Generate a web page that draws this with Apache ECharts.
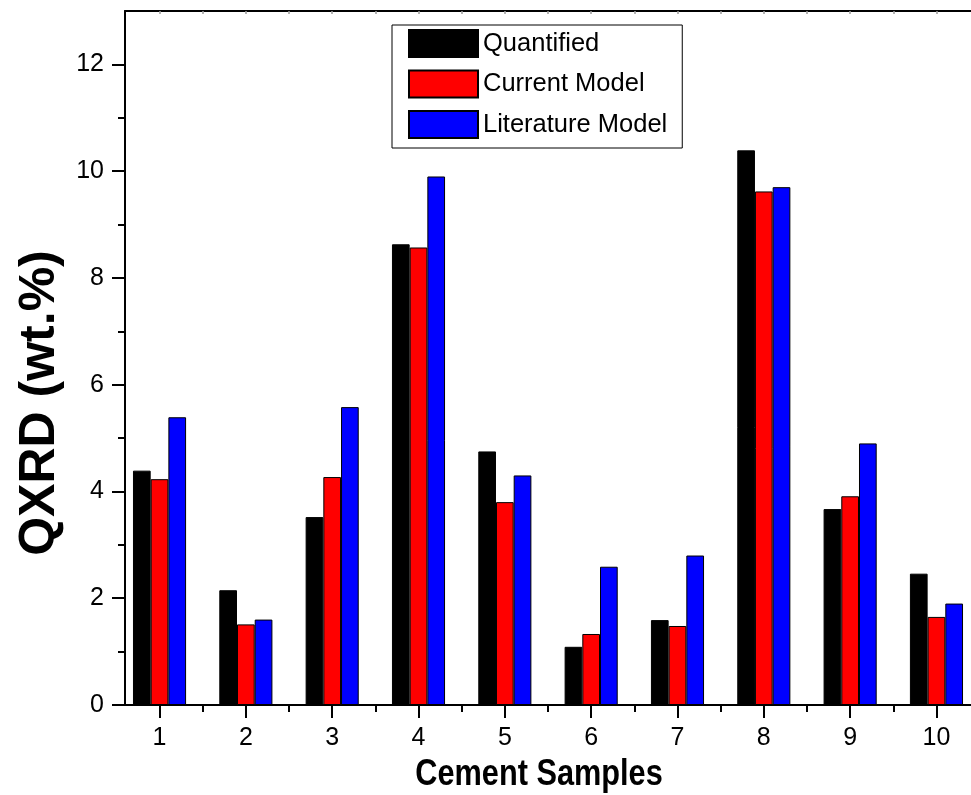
<!DOCTYPE html>
<html>
<head>
<meta charset="utf-8">
<script src="https://cdn.jsdelivr.net/npm/echarts@6/dist/echarts.min.js"></script>
<style>
  html, body { margin: 0; padding: 0; background: #fff; }
  #chart { width: 971px; height: 795px; }
</style>
</head>
<body>
<div id="chart"></div>
<script>
// Cement samples 1..10 and QXRD phase content (wt.%)
const samples = [1, 2, 3, 4, 5, 6, 7, 8, 9, 10];
const quantified = [4.39, 2.15, 3.52, 8.63, 4.75, 1.09, 1.59, 10.39, 3.67, 2.46];
const currentModel = [4.23, 1.51, 4.27, 8.57, 3.80, 1.33, 1.48, 9.62, 3.91, 1.65];
const literatureModel = [5.39, 1.60, 5.58, 9.90, 4.30, 2.59, 2.80, 9.70, 4.90, 1.90];

const seriesNames = ['Quantified', 'Current Model', 'Literature Model'];
const seriesColors = ['#000000', '#ff0000', '#0000ff'];

// Axis tick positions
const yMajor = [0, 2, 4, 6, 8, 10, 12];
const yMinor = [1, 3, 5, 7, 9, 11];
const xMinor = [1.5, 2.5, 3.5, 4.5, 5.5, 6.5, 7.5, 8.5, 9.5];
const xTop = [1, 1.5, 2, 2.5, 3, 3.5, 4, 4.5, 5, 5.5, 6, 6.5, 7, 7.5, 8, 8.5, 9, 9.5, 10];

const regular = '"Liberation Sans", Arial, sans-serif';

const chart = echarts.init(document.getElementById('chart'), null, { renderer: 'canvas' });

const pairs = (vals) => samples.map((s, i) => [s, vals[i]]);
const lineStyle = { color: '#000', width: 2 };

const option = {
  animation: false,
  backgroundColor: '#fff',
  grid: { left: 125, top: 11, width: 852, height: 694, containLabel: false },
  legend: {
    orient: 'vertical',
    left: 392,
    top: 25,
    padding: [4, 15, 9, 16],
    icon: 'rect',
    itemWidth: 69,
    itemHeight: 27,
    itemGap: 11.5,
    itemTextGap: 11,
    borderColor: '#000',
    borderWidth: 1,
    backgroundColor: '#fff',
    data: seriesNames,
    textStyle: { fontFamily: regular, fontSize: 25.5, color: '#000', lineHeight: 27 }
  },
  xAxis: [
    {
      type: 'value', min: 0.6, max: 10.4, position: 'bottom',
      axisLine: { onZero: false, lineStyle },
      axisTick: { show: true, inside: false, length: 13, lineStyle, customValues: samples },
      axisLabel: { show: true, margin: 21, fontFamily: regular, fontSize: 25, color: '#000', customValues: samples },
      splitLine: { show: false }
    },
    {
      type: 'value', min: 0.6, max: 10.4, position: 'bottom',
      axisLine: { show: false, onZero: false },
      axisTick: { show: true, inside: false, length: 7, lineStyle, customValues: xMinor },
      axisLabel: { show: false },
      splitLine: { show: false }
    },
    {
      type: 'value', min: 0.6, max: 10.4, position: 'top',
      axisLine: { onZero: false, lineStyle },
      axisTick: { show: true, inside: true, length: 3, lineStyle: { color: '#999', width: 1.5 }, customValues: xTop },
      axisLabel: { show: false },
      splitLine: { show: false }
    }
  ],
  yAxis: [
    {
      type: 'value', min: 0, max: 13, position: 'left',
      axisLine: { show: true, onZero: false, lineStyle },
      axisTick: { show: true, inside: false, length: 13, lineStyle, customValues: yMajor },
      axisLabel: { show: true, margin: 21, fontFamily: regular, fontSize: 25, color: '#000', customValues: yMajor },
      splitLine: { show: false }
    },
    {
      type: 'value', min: 0, max: 13, position: 'left',
      axisLine: { show: false, onZero: false },
      axisTick: { show: true, inside: false, length: 7, lineStyle, customValues: yMinor },
      axisLabel: { show: false },
      splitLine: { show: false }
    }
  ],
  series: [quantified, currentModel, literatureModel].map((vals, i) => ({
    name: seriesNames[i],
    type: 'bar',
    xAxisIndex: 0,
    yAxisIndex: 0,
    data: pairs(vals),
    barWidth: 17.7,
    barGap: '0%',
    itemStyle: { color: seriesColors[i], borderColor: '#000', borderWidth: 1 }
  })),
  graphic: [
    {
      // condensed bold title under the x axis
      type: 'text', x: 539, y: 775, scaleX: 0.83,
      style: {
        text: 'Cement Samples', fontFamily: regular, fontWeight: 'bold', fontSize: 37,
        fill: '#000', textAlign: 'center', textVerticalAlign: 'middle'
      }
    },
    {
      type: 'text', x: 40, y: 403, rotation: Math.PI / 2,
      style: {
        text: 'QXRD (wt.%)', fontFamily: regular, fontWeight: 'bold', fontSize: 50,
        fill: '#000', textAlign: 'center', textVerticalAlign: 'middle'
      }
    }
  ]
};

chart.setOption(option);
</script>
</body>
</html>
